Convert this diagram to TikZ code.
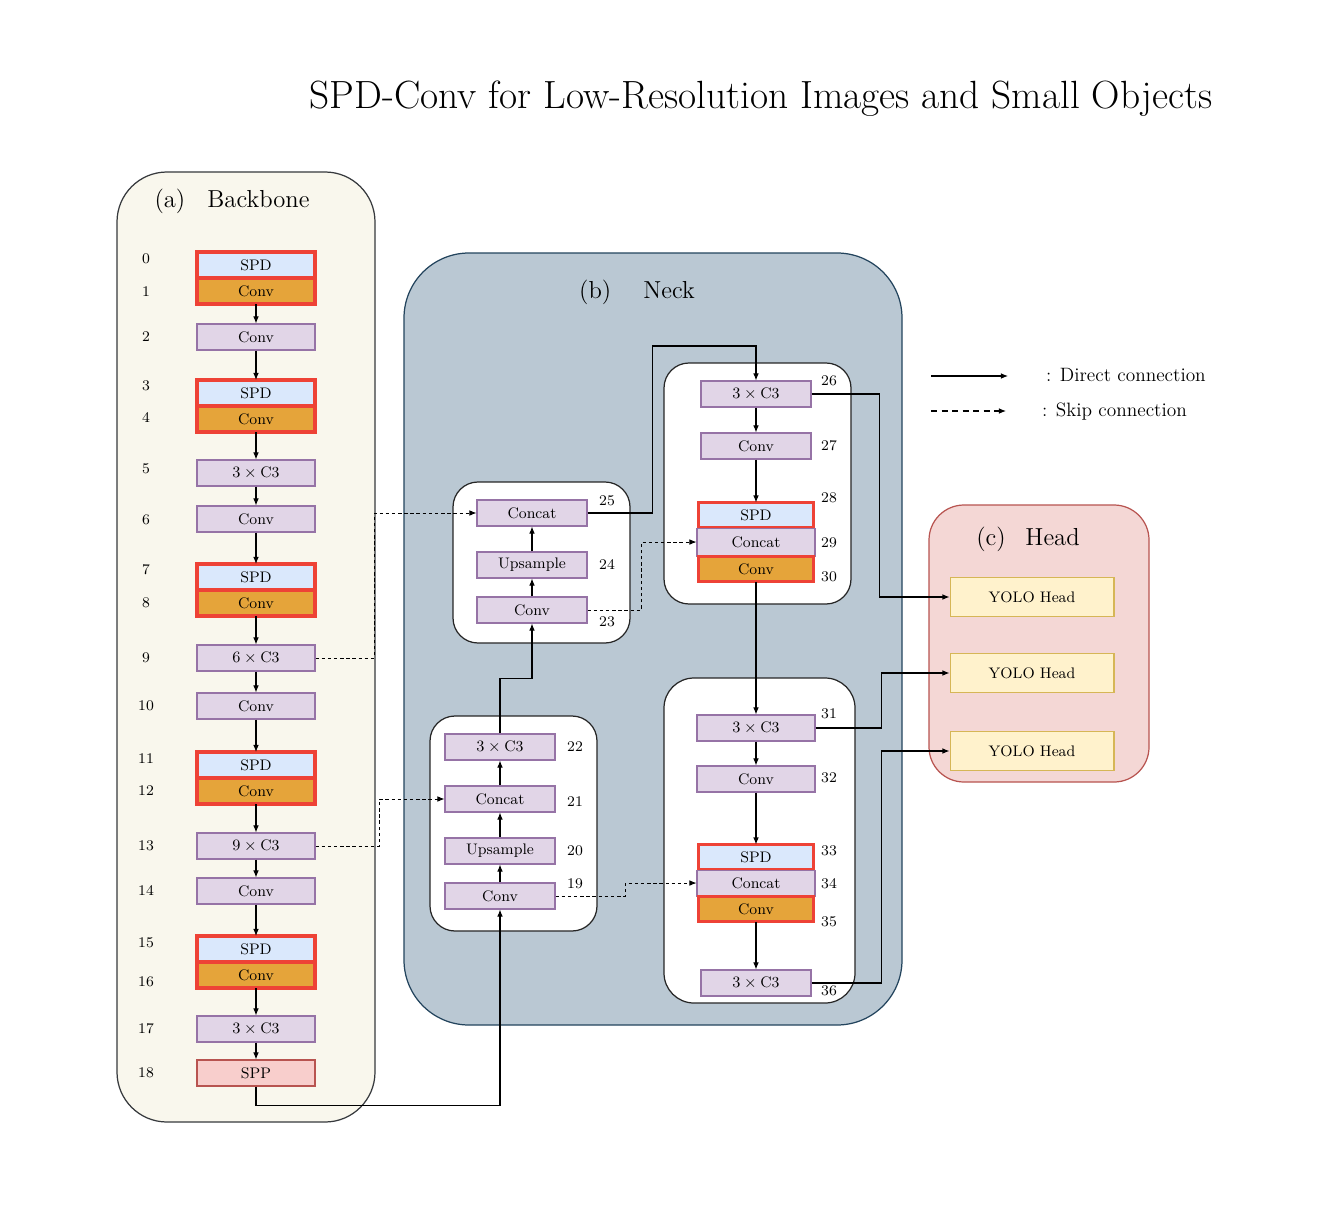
\documentclass[tikz,border=0pt]{standalone}
\usepackage{fontspec}
\usepackage{amsmath}
\usetikzlibrary{positioning, arrows.meta, calc}

\definecolor{bbfill}{HTML}{F9F7ED}
\definecolor{bbline}{HTML}{36393D}
\definecolor{neckfill}{HTML}{BAC8D3}
\definecolor{neckline}{HTML}{23445D}
\definecolor{headfill}{HTML}{F4D7D5}
\definecolor{headline}{HTML}{B85450}
\definecolor{layfill}{HTML}{E1D5E7}
\definecolor{layline}{HTML}{9673A6}
\definecolor{spdfill}{HTML}{DAE8FC}
\definecolor{convfill}{HTML}{E5A43A}
\definecolor{spdred}{HTML}{EE4236}
\definecolor{sppfill}{HTML}{F8CECC}
\definecolor{yolofill}{HTML}{FFF2CC}
\definecolor{yololine}{HTML}{D6B656}

\tikzset{
  layer/.style={draw=layline,fill=layfill,line width=0.6pt,minimum width=2.36cm,
    minimum height=0.52cm,inner sep=0pt,font=\fontsize{8.7}{10}\selectfont},
  narrow/.style={layer,minimum width=2.2cm},
  spdbox/.style={layer,draw=spdred,fill=spdfill,line width=2pt,outer sep=0pt},
  convbox/.style={spdbox,fill=convfill},
  sppbox/.style={layer,fill=sppfill,draw=headline},
  yolo/.style={layer,fill=yolofill,draw=yololine,minimum width=3.28cm,minimum height=0.78cm},
  num/.style={font=\fontsize{8.4}{9}\selectfont},
  paneltitle/.style={font=\fontsize{14}{16}\selectfont},
  group/.style={draw=black!85,fill=white,line width=0.7pt,rounded corners=0.5cm},
  link/.style={->,line width=0.6pt},
  skip/.style={->,line width=0.5pt,dash pattern=on 2pt off 1.5pt},
}
\newcommand{\cthree}[1]{$#1\times\mathrm{C3}$}

\begin{document}
\begin{tikzpicture}[x=0.02cm,y=-0.02cm,>={Latex[length=4pt,width=3.2pt]}]
  \useasboundingbox[fill=white] (0,0) rectangle (1324,1213);
  \node[font=\fontsize{22.4}{26}\selectfont] (title) at (761,99)
       {SPD-Conv for Low-Resolution Images and Small Objects};

  % panels
  \draw[fill=bbfill,draw=bbline,line width=0.7pt,rounded corners=1cm]
       (117,172) rectangle (375,1122);
  \draw[fill=neckfill,draw=neckline,line width=0.7pt,rounded corners=1.3cm]
       (404,253) rectangle (902,1025);
  \draw[fill=headfill,draw=headline,line width=0.7pt,rounded corners=0.7cm]
       (929,505) rectangle (1149,782);
  \node[paneltitle] (ta) at (232,201) {(a)\hspace{0.9em}Backbone};
  \node[paneltitle] (tb) at (637,292) {(b)\hspace{1.3em}Neck};
  \node[paneltitle] (tc) at (1028,539) {(c)\hspace{0.8em}Head};

  % neck groups
  \draw[group] (453,482) rectangle (630,643);
  \draw[group] (430,716) rectangle (597,931);
  \draw[group] (664,363) rectangle (851,604);
  \draw[group,rounded corners=0.6cm] (664,678) rectangle (855,1003);

  % backbone
  \node[spdbox] (l0) at (256,265) {SPD};
  \node[convbox,below=0pt of l0] (l1) {Conv};
  \node[layer] (l2) at (256,337) {Conv};
  \node[spdbox] (l3) at (256,393) {SPD};
  \node[convbox,below=0pt of l3] (l4) {Conv};
  \node[layer] (l5) at (256,473) {\cthree{3}};
  \node[layer] (l6) at (256,519) {Conv};
  \node[spdbox] (l7) at (256,577) {SPD};
  \node[convbox,below=0pt of l7] (l8) {Conv};
  \node[layer] (l9) at (256,658) {\cthree{6}};
  \node[layer] (l10) at (256,706) {Conv};
  \node[spdbox] (l11) at (256,765) {SPD};
  \node[convbox,below=0pt of l11] (l12) {Conv};
  \node[layer] (l13) at (256,846) {\cthree{9}};
  \node[layer] (l14) at (256,891) {Conv};
  \node[spdbox] (l15) at (256,949) {SPD};
  \node[convbox,below=0pt of l15] (l16) {Conv};
  \node[layer] (l17) at (256,1029) {\cthree{3}};
  \node[sppbox] (l18) at (256,1073) {SPP};
  \foreach \i/\y in {0/259,1/292,2/337,3/386,4/418,5/469,6/520,7/570,8/603,9/658,
                     10/706,11/759,12/791,13/846,14/891,15/943,16/982,17/1029,18/1073}
    \node[num] (n\i) at (146,\y) {\i};

  % neck
  \node[narrow] (l19) at (500,896) {Conv};
  \node[narrow] (l20) at (500,851) {Upsample};
  \node[narrow] (l21) at (500,799) {Concat};
  \node[narrow] (l22) at (500,747) {\cthree{3}};
  \node[narrow] (l23) at (532,610) {Conv};
  \node[narrow] (l24) at (532,565) {Upsample};
  \node[narrow] (l25) at (532,513) {Concat};
  \node[narrow] (l26) at (756,394) {\cthree{3}};
  \node[narrow] (l27) at (756,446) {Conv};
  \node[spdbox,minimum width=2.3cm,minimum height=0.5cm] (l28) at (756,515) {SPD};
  \node[layer,minimum height=0.56cm,below=0pt of l28] (l29) {Concat};
  \node[convbox,minimum width=2.3cm,minimum height=0.5cm,below=0pt of l29] (l30) {Conv};
  \node[layer] (l31) at (756,728) {\cthree{3}};
  \node[layer] (l32) at (756,779) {Conv};
  \node[spdbox,minimum width=2.3cm,minimum height=0.5cm] (l33) at (756,857) {SPD};
  \node[layer,minimum height=0.52cm,below=0pt of l33] (l34) {Concat};
  \node[convbox,minimum width=2.3cm,minimum height=0.5cm,below=0pt of l34] (l35) {Conv};
  \node[narrow] (l36) at (756,983) {\cthree{3}};
  \foreach \i/\x/\y in {19/575/884,20/575/851,21/575/802,22/575/747,23/607/622,24/607/565,
                        25/607/501,26/829/381,27/829/446,28/829/498,29/829/543,30/829/577,
                        31/829/714,32/829/778,33/829/851,34/829/884,35/829/922,36/829/991}
    \node[num] (n\i) at (\x,\y) {\i};

  % head
  \node[yolo] (h1) at (1032,597) {YOLO Head};
  \node[yolo] (h2) at (1032,673) {YOLO Head};
  \node[yolo] (h3) at (1032,751) {YOLO Head};

  % direct connections
  \foreach \a/\b in {1/2,2/3,4/5,5/6,6/7,8/9,9/10,10/11,12/13,13/14,14/15,16/17,17/18,
                     19/20,20/21,21/22,23/24,24/25,26/27,27/28,30/31,31/32,32/33,35/36}
    \draw[link] (l\a) -- (l\b);
  \draw[link] (l18.south) -- ++(0,19) -| (l19.south);
  \draw[link] (l22.north) -- ++(0,-55) -| (l23.south);
  \draw[link] (l25.east) -- ++(65,0) -- ++(0,-167) -| (l26.north);
  \draw[link] (l26.east) -| ($(h1.west)+(-70,0)$) -- (h1.west);
  \draw[link] (l31.east) -| ($(h2.west)+(-68,0)$) -- (h2.west);
  \draw[link] (l36.east) -| ($(h3.west)+(-68,0)$) -- (h3.west);

  % skip connections
  \draw[skip] (l9.east) -| ($(l25.west)+(-102,0)$) -- (l25.west);
  \draw[skip] (l13.east) -| ($(l21.west)+(-65,0)$) -- (l21.west);
  \draw[skip] (l23.east) -| ($(l29.west)+(-55,0)$) -- (l29.west);
  \draw[skip] (l19.east) -| ($(l34.west)+(-71,0)$) -- (l34.west);

  % legend
  \coordinate (dirA) at (931,376);
  \coordinate (dirB) at (1008,376);
  \coordinate (skipA) at (931,411);
  \coordinate (skipB) at (1006,411);
  \draw[link] (dirA) -- (dirB);
  \draw[->,line width=0.6pt,dash pattern=on 3.5pt off 2.5pt] (skipA) -- (skipB);
  \node[anchor=west,font=\fontsize{11}{13}\selectfont] (ldir) at (1040,375) {: Direct connection};
  \node[anchor=west,font=\fontsize{11}{13}\selectfont] (lskip) at (1036,412) {: Skip connection};
\end{tikzpicture}
\end{document}
